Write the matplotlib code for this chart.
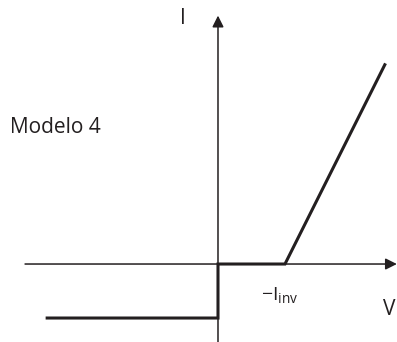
import matplotlib.pyplot as plt

plt.rcParams['font.family'] = ['Open Sans', 'DejaVu Sans']
plt.rcParams['mathtext.default'] = 'regular'

# curve of model 4 (V in units of the knee voltage, I in units of I_inv)
v_curve = [-2.55, 0.0, 0.0, 1.0, 2.49]
i_curve = [-1.0, -1.0, 0.0, 0.0, 3.69]

ink = '#231f20'

fig = plt.figure(figsize=(3.97, 3.42), dpi=100)
ax = fig.add_axes([0, 0, 1, 1])
ax.set_xlim(-3.254, 2.672)
ax.set_ylim(-1.444, 4.889)
ax.axis('off')

# axes with arrows
ax.annotate('', xy=(2.67, 0), xytext=(-2.88, 0),
            arrowprops=dict(arrowstyle='-|>', color=ink, lw=1.1,
                            mutation_scale=17, shrinkA=0, shrinkB=0))
ax.annotate('', xy=(0, 4.6), xytext=(0, -1.444),
            arrowprops=dict(arrowstyle='-|>', color=ink, lw=1.1,
                            mutation_scale=17, shrinkA=0, shrinkB=0))

ax.plot(v_curve, i_curve, color=ink, lw=2.2, solid_joinstyle='miter')

ax.text(-0.52, 4.55, 'I', fontsize=15, color=ink, ha='center', va='center')
ax.text(-3.11, 2.52, 'Modelo 4', fontsize=15, color=ink, ha='left', va='center')
ax.text(0.92, -0.57, r'$-I_{inv}$', fontsize=14, color=ink, ha='center', va='center')
ax.text(2.47, -0.84, 'V', fontsize=15, color=ink, ha='left', va='center')

fig.savefig('out.png', dpi=100)
